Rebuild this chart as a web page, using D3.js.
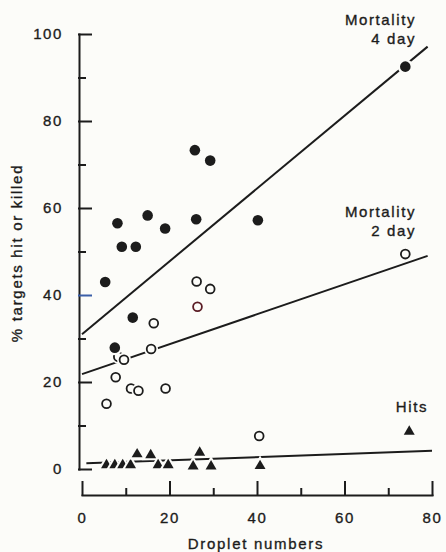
<!DOCTYPE html>
<html>
<head>
<meta charset="utf-8">
<script src="https://cdn.jsdelivr.net/npm/d3@7"></script>
<style>
  html, body { margin: 0; padding: 0; background: #fcfcf9; }
  svg { display: block; }
  text { font-family: "Liberation Sans", Arial, Helvetica, sans-serif; fill: #1c1c1c; stroke: #1c1c1c; stroke-width: 0.35px; }
</style>
</head>
<body>
<svg id="chart" width="446" height="552"></svg>
<script>
// Droplet numbers (x) and % targets (y) per observation
const mortality4Droplets = [5.3, 7.5, 8.1, 9.1, 11.6, 12.3, 15.0, 19.0, 25.8, 26.1, 29.3, 40.2, 73.9];
const mortality4Values   = [43.0, 27.9, 56.5, 51.1, 34.8, 51.1, 58.3, 55.3, 73.3, 57.4, 70.9, 57.2, 92.5];

const mortality2Droplets = [26.2, 29.3, 26.4, 16.4, 15.8, 8.3, 9.6, 7.7, 11.2, 12.9, 19.1, 5.6, 40.5, 73.9];
const mortality2Values   = [43.1, 41.4, 37.3, 33.5, 27.6, 25.8, 25.1, 21.1, 18.5, 18.0, 18.5, 15.0, 7.6, 49.4];

const hitsDroplets = [5.6, 7.5, 9.3, 11.1, 12.6, 15.7, 17.4, 19.7, 26.9, 25.4, 29.5, 40.7, 74.8];
const hitsValues   = [0.9, 0.9, 0.9, 0.9, 3.4, 3.2, 0.9, 0.9, 3.8, 0.6, 0.6, 0.7, 8.6];

// Fitted lines, as [droplets, %] end points
const fit4Day  = [[0, 31.0], [79, 97.1]];
const fit2Day  = [[0, 21.8], [79, 49.0]];
const fitHits  = [[1, 1.3], [80, 4.2]];

// Axis ticks
const xMajorTicks = [0, 20, 40, 60, 80];
const xMinorTicks = [10, 30, 50, 70];
const yMajorTicks = [0, 20, 40, 60, 80, 100];
const yMinorTicks = [10, 30, 50, 70, 90];

const label4Day = ["Mortality", "4 day"];
const label2Day = ["Mortality", "2 day"];
const labelHits = ["Hits"];

const bg = "#fcfcf9";
const ink = "#1c1c1c";

const svg = d3.select("#chart");

const x = d3.scaleLinear().domain([0, 80]).range([82, 432]);
const y = d3.scaleLinear().domain([0, 100]).range([469, 34]);

const yAxisX = 79;
const xAxisY = 495;

// Y axis: ticks pointing inward, labels on the left
const yMajor = svg.append("g")
  .attr("transform", `translate(${yAxisX},0)`)
  .call(d3.axisLeft(y).tickValues(yMajorTicks).tickSizeInner(-12).tickSizeOuter(0).tickPadding(16).tickFormat(d3.format("d")));
const yMinor = svg.append("g")
  .attr("transform", `translate(${yAxisX},0)`)
  .call(d3.axisLeft(y).tickValues(yMinorTicks).tickSizeInner(-6).tickSizeOuter(0).tickFormat(""));
yMinor.select(".domain").remove();

// X axis: detached baseline, ticks pointing up, labels below
const xMajor = svg.append("g")
  .attr("transform", `translate(0,${xAxisY})`)
  .call(d3.axisBottom(x).tickValues(xMajorTicks).tickSizeInner(-13).tickSizeOuter(0).tickPadding(17).tickFormat(d3.format("d")));
const xMinor = svg.append("g")
  .attr("transform", `translate(0,${xAxisY})`)
  .call(d3.axisBottom(x).tickValues(xMinorTicks).tickSizeInner(-6).tickSizeOuter(0).tickFormat(""));
xMinor.select(".domain").remove();

svg.selectAll(".domain, .tick line")
  .attr("stroke", ink).attr("stroke-width", 2).attr("stroke-linecap", "square");
svg.selectAll(".tick text")
  .attr("font-size", 15).attr("letter-spacing", "1.6px").attr("fill", ink)
  .style("font-family", "'Liberation Sans', Arial, sans-serif");
yMajor.selectAll(".tick text").attr("text-anchor", "end");
xMajor.selectAll(".tick text").attr("text-anchor", "middle");
// the 40 tick carries a blue ink mark
yMajor.selectAll(".tick").filter(d => d === 40).select("line").attr("stroke", "#3b5fa8");

// Fitted lines
const line = d3.line().x(d => x(d[0])).y(d => y(d[1]));
[fit4Day, fit2Day, fitHits].forEach(f => {
  svg.append("path").attr("d", line(f))
    .attr("fill", "none").attr("stroke", ink).attr("stroke-width", 2);
});

// Open circles: 2 day mortality
const open = svg.append("g");
mortality2Droplets.forEach((d, i) => {
  open.append("circle").attr("cx", x(d)).attr("cy", y(mortality2Values[i])).attr("r", 7).attr("fill", bg);
  open.append("circle").attr("cx", x(d)).attr("cy", y(mortality2Values[i])).attr("r", 4.4)
    .attr("fill", bg).attr("stroke", i === 2 ? "#5a1c24" : ink).attr("stroke-width", 1.8);
});

// Filled circles: 4 day mortality
const filled = svg.append("g");
mortality4Droplets.forEach((d, i) => {
  filled.append("circle").attr("cx", x(d)).attr("cy", y(mortality4Values[i])).attr("r", 7.5).attr("fill", bg);
  filled.append("circle").attr("cx", x(d)).attr("cy", y(mortality4Values[i])).attr("r", 5.3).attr("fill", ink);
});

// Triangles: hits
const tri = d3.symbol().type(d3.symbolTriangle);
const hits = svg.append("g");
hitsDroplets.forEach((d, i) => {
  const t = `translate(${x(d)},${y(hitsValues[i])})`;
  hits.append("path").attr("d", tri.size(140)()).attr("transform", t).attr("fill", bg);
  hits.append("path").attr("d", tri.size(52)()).attr("transform", t).attr("fill", ink);
});

// Series labels, right aligned
function seriesLabel(lines, right, baseline) {
  const t = svg.append("text")
    .attr("x", right).attr("y", baseline)
    .attr("text-anchor", "end").attr("font-size", 15).attr("letter-spacing", "1.6px");
  lines.forEach((l, k) => {
    t.append("tspan").attr("x", right).attr("dy", k === 0 ? 0 : 19).text(l);
  });
}
seriesLabel(label4Day, 416, 25);
seriesLabel(label2Day, 416, 217);
seriesLabel(labelHits, 428, 412);

// Axis titles
svg.append("text")
  .attr("x", 256).attr("y", 549)
  .attr("text-anchor", "middle").attr("font-size", 15).attr("letter-spacing", "1.7px")
  .text("Droplet numbers");

svg.append("text")
  .attr("transform", "translate(22,253) rotate(-90)")
  .attr("text-anchor", "middle").attr("font-size", 15).attr("letter-spacing", "1.7px")
  .text("% targets hit or killed");
</script>
</body>
</html>
